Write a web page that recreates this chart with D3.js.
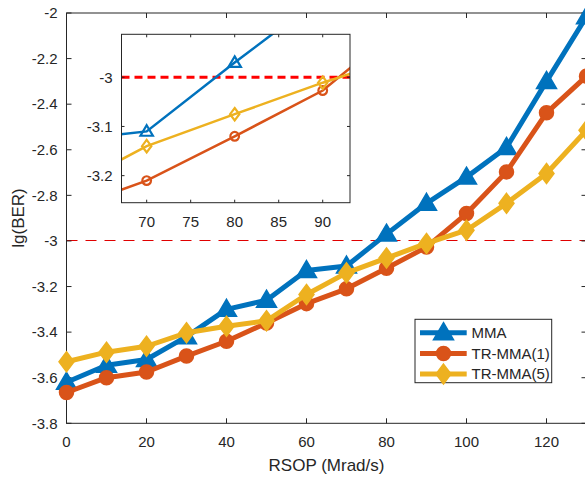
<!DOCTYPE html>
<html><head><meta charset="utf-8">
<script src="https://cdn.jsdelivr.net/npm/d3@7"></script>
<style>body{margin:0;background:#fff}svg{display:block}text{font-family:"Liberation Sans",Arial,Helvetica,sans-serif;fill:#262626}</style>
</head><body>
<script>
// ---- data ----
const xs = [0,10,20,30,40,50,60,70,80,90,100,110,120,130];
const mma  = [-3.62,-3.545,-3.52,-3.42,-3.30,-3.26,-3.13,-3.11,-2.97,-2.835,-2.72,-2.59,-2.30,-2.016];
const tr1  = [-3.665,-3.60,-3.575,-3.505,-3.44,-3.36,-3.275,-3.21,-3.12,-3.027,-2.88,-2.697,-2.438,-2.277];
const tr5  = [-3.53,-3.488,-3.462,-3.403,-3.374,-3.35,-3.235,-3.14,-3.075,-3.011,-2.953,-2.835,-2.704,-2.514];
const seriesNames = ["MMA","TR-MMA(1)","TR-MMA(5)"];
const xTicks = [0,20,40,60,80,100,120];
const yTicks = [-2,-2.2,-2.4,-2.6,-2.8,-3,-3.2,-3.4,-3.6,-3.8];
const yTickLabels = ["-2","-2.2","-2.4","-2.6","-2.8","-3","-3.2","-3.4","-3.6","-3.8"];
const insetXTicks = [70,75,80,85,90];
const insetYTicks = [-3,-3.1,-3.2];
const insetYTickLabels = ["-3","-3.1","-3.2"];
const threshold = -3;
const xLabel = "RSOP (Mrad/s)";
const yLabel = "lg(BER)";

const colors = ["#0072BD","#D95319","#EDB120"];
const markers = ["tri","circ","diam"];
const series = [mma,tr1,tr5];

const W=585,H=479;
const svg=d3.select("body").append("svg").attr("width",W).attr("height",H);

const x=d3.scaleLinear().domain([0,130]).range([66.5,586.5]);
const y=d3.scaleLinear().domain([-3.8,-2]).range([423.3,13]);
const axisColor="#262626";

function markerPath(type,s){
  if(type==="tri") return `M0,${-10*s}L${10*s},${7*s}L${-10*s},${7*s}Z`;
  if(type==="diam") return `M0,${-10*s}L${7.5*s},0L0,${10*s}L${-7.5*s},0Z`;
  const r=7*s; return `M${r},0A${r},${r} 0 1,1 ${-r},0A${r},${r} 0 1,1 ${r},0Z`;
}

// main axes box
const g=svg.append("g");
g.append("rect").attr("x",x(0)).attr("y",y(-2)).attr("width",x(130)-x(0)).attr("height",y(-3.8)-y(-2))
 .attr("fill","#fff");
// dashed threshold
const ty=Math.floor(y(threshold))+0.5;
g.append("line").attr("x1",x(0)).attr("x2",x(130)).attr("y1",ty).attr("y2",ty)
 .attr("stroke","#e00000").attr("stroke-width",1).attr("stroke-dasharray","11,8");

// ticks & labels
const tk=5;
xTicks.forEach(t=>{
  g.append("line").attr("x1",x(t)).attr("x2",x(t)).attr("y1",y(-3.8)).attr("y2",y(-3.8)-tk).attr("stroke",axisColor);
  g.append("line").attr("x1",x(t)).attr("x2",x(t)).attr("y1",y(-2)).attr("y2",y(-2)+tk).attr("stroke",axisColor);
  g.append("text").attr("x",x(t)).attr("y",447).attr("text-anchor","middle").attr("font-size",15).text(t);
});
yTicks.forEach((t,i)=>{
  g.append("line").attr("x1",x(0)).attr("x2",x(0)+tk).attr("y1",y(t)).attr("y2",y(t)).attr("stroke",axisColor);
  g.append("line").attr("x1",x(130)).attr("x2",x(130)-tk).attr("y1",y(t)).attr("y2",y(t)).attr("stroke",axisColor);
  g.append("text").attr("x",57.5).attr("y",y(t)+5.3).attr("text-anchor","end").attr("font-size",15).text(yTickLabels[i]);
});
g.append("rect").attr("x",x(0)).attr("y",y(-2)).attr("width",x(130)-x(0)).attr("height",y(-3.8)-y(-2))
 .attr("fill","none").attr("stroke",axisColor).attr("stroke-width",1);

g.append("text").attr("x",326.5).attr("y",471).attr("text-anchor","middle").attr("font-size",17).text(xLabel);
g.append("text").attr("transform",`translate(24,218) rotate(-90)`).attr("text-anchor","middle").attr("font-size",17).text(yLabel);

// series
const line=d3.line().x((d,i)=>x(xs[i])).y(d=>y(d));
series.forEach((s,k)=>{
  const sg=g.append("g");
  sg.append("path").attr("d",line(s)).attr("fill","none").attr("stroke",colors[k]).attr("stroke-width",5).attr("stroke-linejoin","round");
  sg.selectAll("path.m").data(s).enter().append("path").attr("class","m")
    .attr("transform",(d,i)=>`translate(${x(xs[i])},${y(d)})`)
    .attr("d",markerPath(markers[k],1)).attr("fill",colors[k]).attr("stroke",colors[k]).attr("stroke-width",1.5);
});

// legend
const lg=svg.append("g");
lg.append("rect").attr("x",415).attr("y",319.3).attr("width",136.7).attr("height",63.4).attr("fill","#fff").attr("stroke",axisColor).attr("stroke-width",1);
seriesNames.forEach((n,k)=>{
  const yy=332.7+k*20.7;
  lg.append("line").attr("x1",420).attr("x2",466.7).attr("y1",yy).attr("y2",yy).attr("stroke",colors[k]).attr("stroke-width",5);
  lg.append("path").attr("transform",`translate(443.5,${yy})`).attr("d",markerPath(markers[k],1)).attr("fill",colors[k]).attr("stroke",colors[k]).attr("stroke-width",1.5);
  lg.append("text").attr("x",471.5).attr("y",yy+5.3).attr("font-size",15).text(n);
});

// inset
const ix=d3.scaleLinear().domain([67.14,93.1]).range([121.5,350]);
const iy=d3.scaleLinear().domain([-3.255,-2.9126]).range([202.7,34.3]);
const ig=svg.append("g");
ig.append("rect").attr("x",121.5).attr("y",34.3).attr("width",228.5).attr("height",168.4).attr("fill","#fff");
svg.append("clipPath").attr("id","ic").append("rect").attr("x",121.5).attr("y",34.3).attr("width",228.5).attr("height",168.4);
const ic=ig.append("g").attr("clip-path","url(#ic)");
ic.append("line").attr("x1",121.5).attr("x2",350).attr("y1",iy(threshold)).attr("y2",iy(threshold))
  .attr("stroke","#ff0000").attr("stroke-width",3).attr("stroke-dasharray","8,5");
const iline=d3.line().x((d,i)=>ix(xs[i])).y(d=>iy(d));
series.forEach((s,k)=>{
  ic.append("path").attr("d",iline(s)).attr("fill","none").attr("stroke",colors[k]).attr("stroke-width",2.5);
  ic.selectAll(null).data(s.map((d,i)=>[xs[i],d]).filter(p=>p[0]>=67&&p[0]<=93&&p[1]<=-2.92)).enter().append("path")
    .attr("transform",d=>`translate(${ix(d[0])},${iy(d[1])})`)
    .attr("d",markerPath(markers[k],0.62)).attr("fill","none").attr("stroke",colors[k]).attr("stroke-width",2.2);
});
const itk=3;
insetXTicks.forEach(t=>{
  ig.append("line").attr("x1",ix(t)).attr("x2",ix(t)).attr("y1",202.7).attr("y2",202.7-itk).attr("stroke",axisColor);
  ig.append("line").attr("x1",ix(t)).attr("x2",ix(t)).attr("y1",34.3).attr("y2",34.3+itk).attr("stroke",axisColor);
  ig.append("text").attr("x",ix(t)).attr("y",226.5).attr("text-anchor","middle").attr("font-size",15).text(t);
});
insetYTicks.forEach((t,i)=>{
  ig.append("line").attr("x1",121.5).attr("x2",121.5+itk).attr("y1",iy(t)).attr("y2",iy(t)).attr("stroke",axisColor);
  ig.append("line").attr("x1",350).attr("x2",350-itk).attr("y1",iy(t)).attr("y2",iy(t)).attr("stroke",axisColor);
  ig.append("text").attr("x",112.5).attr("y",iy(t)+5.3).attr("text-anchor","end").attr("font-size",15).text(insetYTickLabels[i]);
});
ig.append("rect").attr("x",121.5).attr("y",34.3).attr("width",228.5).attr("height",168.4).attr("fill","none").attr("stroke",axisColor).attr("stroke-width",1);
</script>
</body></html>
